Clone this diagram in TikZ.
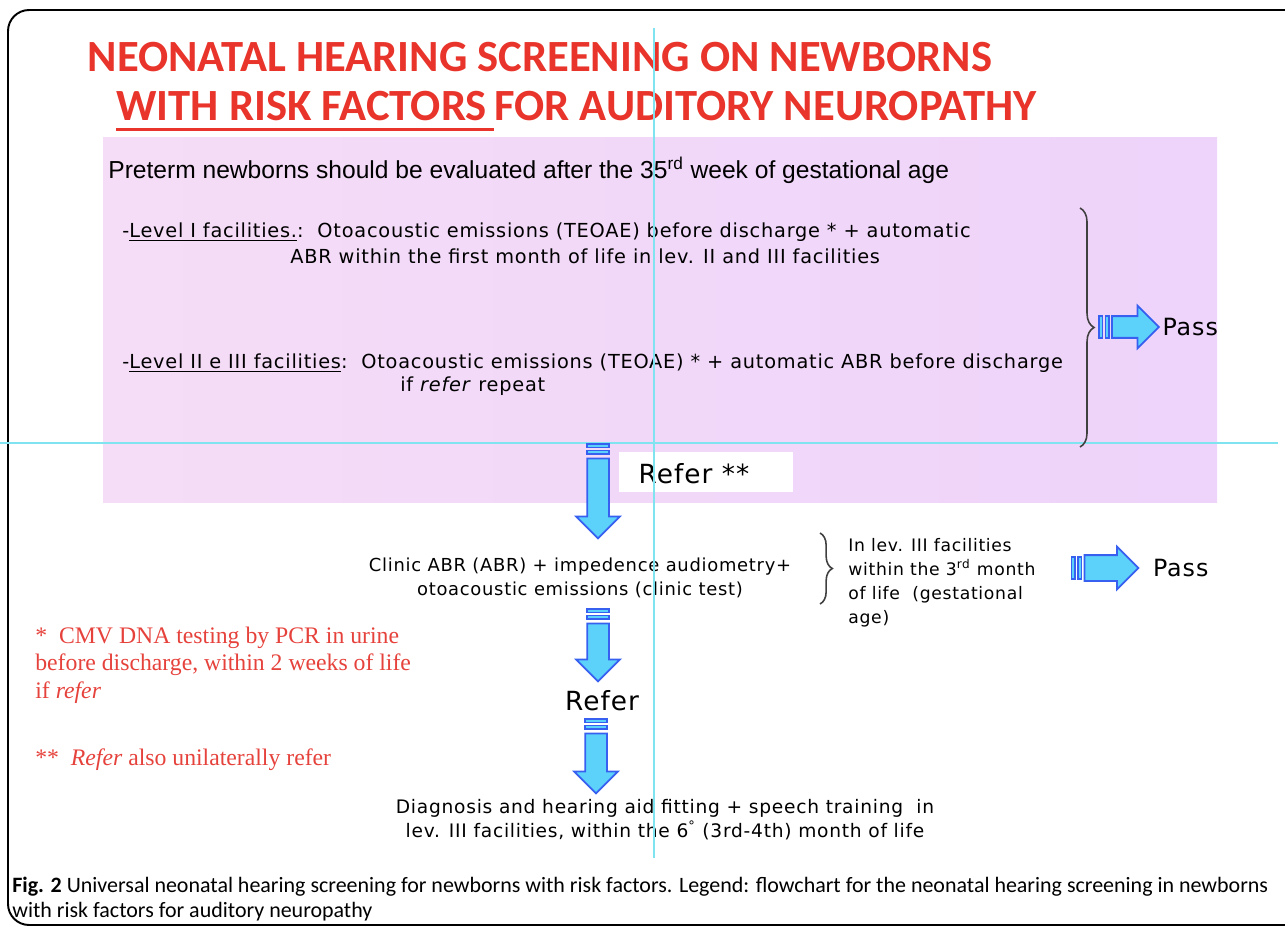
\documentclass[tikz,border=0pt]{standalone}
\usepackage{fontspec}
\setmainfont{Liberation Serif}
\newfontfamily\comicf[LetterSpace=4]{DejaVu Sans}
\newfontfamily\titlef{Carlito}
\newfontfamily\arialf{Liberation Sans}
\usetikzlibrary{positioning,shapes.arrows,decorations.pathreplacing}

\definecolor{titlered}{RGB}{232,52,42}
\definecolor{notered}{RGB}{230,66,60}
\definecolor{pinkL}{RGB}{245,221,247}
\definecolor{pinkR}{RGB}{238,211,250}
\definecolor{guide}{RGB}{128,228,240}
\definecolor{arrowfill}{RGB}{92,210,250}
\definecolor{arrowline}{RGB}{55,95,240}

\tikzstyle{bigarrow} = [single arrow, draw=arrowline, fill=arrowfill, line width=1pt, inner sep=0.2cm, single arrow tip angle=90]
\tikzstyle{stripe} = [rectangle, draw=arrowline, fill=arrowfill, line width=0.8pt, inner sep=0pt]
\tikzstyle{comic} = [inner sep=0pt, font=\comicf\fontsize{11}{13.7}\selectfont]
\tikzstyle{comicbig} = [inner sep=0pt, font=\comicf\fontsize{13.5}{16}\selectfont]
\tikzstyle{titletext} = [inner sep=0pt, text=titlered, font=\titlef\bfseries\fontsize{25.4}{30}\selectfont]
\tikzstyle{note} = [inner sep=0pt, text=notered, font=\fontsize{13.5}{15.6}\selectfont]
\tikzstyle{capt} = [inner sep=0pt, font=\titlef\fontsize{12.5}{14.2}\selectfont]

\begin{document}
\begin{tikzpicture}[x=0.02cm, y=-0.02cm]
\useasboundingbox (0,0) rectangle (1285,929);

% frame and panel
\draw[line width=1.1pt, rounded corners=12] (1285,10) -- (8,10) -- (8,925) -- (1285,925);
\fill[left color=pinkL, right color=pinkR] (103,138) rectangle (1217,502);
\node[fill=white, minimum width=3.48cm, minimum height=0.82cm, inner sep=0pt] (referbox) at (706,472) {};

% title
\node[titletext] (title1) at (540,57) {NEONATAL HEARING SCREENING ON NEWBORNS};
\node[titletext, anchor=west] (title2a) at (116,106) {WITH RISK FACTORS\kern0.15em};
\node[titletext, right=0pt of title2a] (title2b) {FOR AUDITORY NEUROPATHY};
\draw[titlered, line width=1.6pt] ([yshift=-5pt]title2a.base west) -- ([yshift=-5pt]title2a.base east);

% screening text
\node[inner sep=0pt, anchor=west, font=\arialf\fontsize{14}{16}\selectfont] (preterm) at (108,170)
     {Preterm newborns should be evaluated after the 35\textsuperscript{rd} week of gestational age};
\node[comic, anchor=west] (lev1a) at (122,232)
     {-\underline{Level I facilities.}:\ \ Otoacoustic emissions (TEOAE) before discharge * + automatic};
\node[comic, anchor=west] (lev1b) at (290,256)
     {ABR within the first month of life in lev. II and III facilities};
\node[comic, anchor=west] (lev2a) at (122,363)
     {-\underline{Level II e III facilities}:\ \ Otoacoustic emissions (TEOAE) * + automatic ABR before discharge};
\node[comic, anchor=west] (lev2b) at (400,386) {if \textit{refer} repeat};

\node[comicbig, font=\comicf\fontsize{15}{17}\selectfont] (refer1) at (694,474) {Refer **};
\node[comic, align=center, font=\comicf\fontsize{10.2}{13.7}\selectfont] (clinic) at (580,578)
     {Clinic ABR (ABR) + impedence audiometry+\\otoacoustic emissions (clinic test)};
\node[comic, align=left, anchor=north west, font=\comicf\fontsize{9.8}{13.6}\selectfont] (lev3) at (848,538)
     {In lev. III facilities\\within the 3\textsuperscript{rd} month\\of life\ \ (gestational\\age)};
\node[comicbig, font=\comicf\fontsize{15}{18}\selectfont] (refer2) at (602,701) {Refer};
\node[comic, align=center, font=\comicf\fontsize{10.6}{13.7}\selectfont] (diag) at (665,820)
     {Diagnosis and hearing aid fitting + speech training\ \ in\\lev. III facilities, within the 6\textsuperscript{°} (3rd-4th) month of life};

% notes
\node[note, anchor=west, align=left] (note1) at (35,665)
     {*\ \ CMV DNA testing by PCR in urine\\before discharge, within 2 weeks of life\\if \textit{refer}};
\node[note, anchor=west] (note2) at (35,760) {**\ \ \textit{Refer} also unilaterally refer};

% caption
\node[capt, anchor=north west, align=left] (caption) at (12,877)
     {\textbf{Fig. 2} Universal neonatal hearing screening for newborns with risk factors. Legend: flowchart for the neonatal hearing screening in newborns\\with risk factors for auditory neuropathy};

% guides
\draw[guide, line width=0.7pt] (654,28) -- (654,858);
\draw[guide, line width=0.7pt] (0,443) -- (1278,443);

% braces
\draw[decorate, decoration={brace, amplitude=8pt}, line width=0.9pt, black!75] (1080,208) -- (1080,447);
\draw[decorate, decoration={brace, amplitude=7pt}, line width=0.9pt, black!75] (820,533) -- (820,604);

% block arrows
\node[bigarrow, shape border rotate=270, minimum height=1.6cm,
      single arrow head extend=0.22cm] (down1) at (598,493) {};
\node[bigarrow, shape border rotate=270, minimum height=1.16cm,
      single arrow head extend=0.22cm] (down2) at (598,647) {};
\node[bigarrow, shape border rotate=270, minimum height=1.2cm,
      single arrow head extend=0.22cm] (down3) at (596,758) {};
\node[bigarrow, minimum height=0.94cm,
      single arrow head extend=0.21cm] (right1) at (1130,327) {};
\node[bigarrow, minimum height=1.08cm, inner sep=0.24cm,
      single arrow head extend=0.17cm] (right2) at (1105,568) {};

\foreach \a in {down1,down2,down3}{
  \node[stripe, minimum width=0.44cm, minimum height=0.07cm, above=0.06cm of \a.tail] (\a s) {};
  \node[stripe, minimum width=0.44cm, minimum height=0.07cm, above=0.03cm of \a s] (\a t) {};
}
\foreach \a in {right1,right2}{
  \node[stripe, minimum width=0.07cm, minimum height=0.44cm, left=0.03cm of \a.tail] (\a s) {};
  \node[stripe, minimum width=0.07cm, minimum height=0.44cm, left=0.03cm of \a s] (\a t) {};
}

\node[comicbig, right=0.04cm of right1.tip] (pass1) {Pass};
\node[comicbig, right=0.26cm of right2.tip] (pass2) {Pass};

\end{tikzpicture}
\end{document}
